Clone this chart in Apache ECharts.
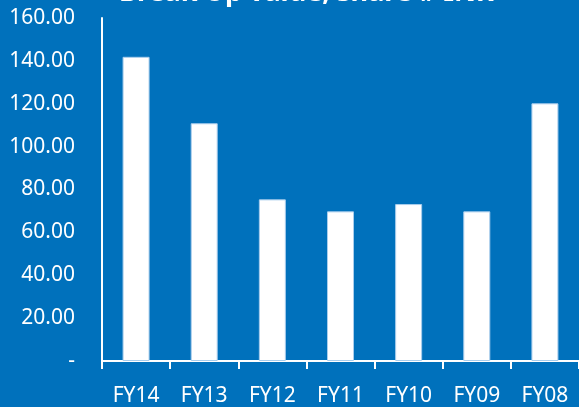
<!DOCTYPE html>
<html>
<head>
<meta charset="utf-8">
<script src="https://cdn.jsdelivr.net/npm/echarts@6/dist/echarts.min.js"></script>
<style>
  html, body { margin: 0; padding: 0; background: #0071BC; }
  #chart { width: 579px; height: 407px; }
</style>
</head>
<body>
<div id="chart"></div>
<script>
// Break-up value per share, by fiscal year
const categories = ['FY14', 'FY13', 'FY12', 'FY11', 'FY10', 'FY09', 'FY08'];
const breakUpValue = [141.9, 110.9, 75.4, 69.8, 73.2, 69.8, 120.2];
const chartTitle = 'Break Up value, share # INR';

const chart = echarts.init(document.getElementById('chart'));
const font = '"Noto Sans", "Open Sans", sans-serif';

chart.setOption({
  backgroundColor: '#0071BC',
  animation: false,
  title: {
    text: chartTitle,
    left: 119,
    top: -20,
    padding: 0,
    textStyle: { color: '#ffffff', fontFamily: font, fontWeight: 'bold', fontSize: 27 }
  },
  grid: { left: 102, right: -3, top: 18, bottom: 45, containLabel: false },
  xAxis: {
    type: 'category',
    data: categories,
    axisLine: { show: true, lineStyle: { color: '#ffffff', width: 2 } },
    axisTick: { show: true, length: 8, lineStyle: { color: '#ffffff', width: 2 } },
    axisLabel: { color: '#ffffff', fontFamily: font, fontSize: 21, margin: 25 }
  },
  yAxis: {
    type: 'value',
    min: 0,
    max: 160,
    interval: 20,
    axisLine: { show: true, lineStyle: { color: '#ffffff', width: 2 } },
    axisTick: { show: false },
    splitLine: { show: false },
    axisLabel: {
      color: '#ffffff',
      fontFamily: font,
      fontSize: 21,
      margin: 27,
      formatter: v => (v === 0 ? '-' : v.toFixed(2))
    }
  },
  series: [{
    type: 'bar',
    data: breakUpValue,
    barWidth: 27,
    itemStyle: { color: '#ffffff', borderColor: '#a9cdec', borderWidth: 1 }
  }]
});
</script>
</body>
</html>
